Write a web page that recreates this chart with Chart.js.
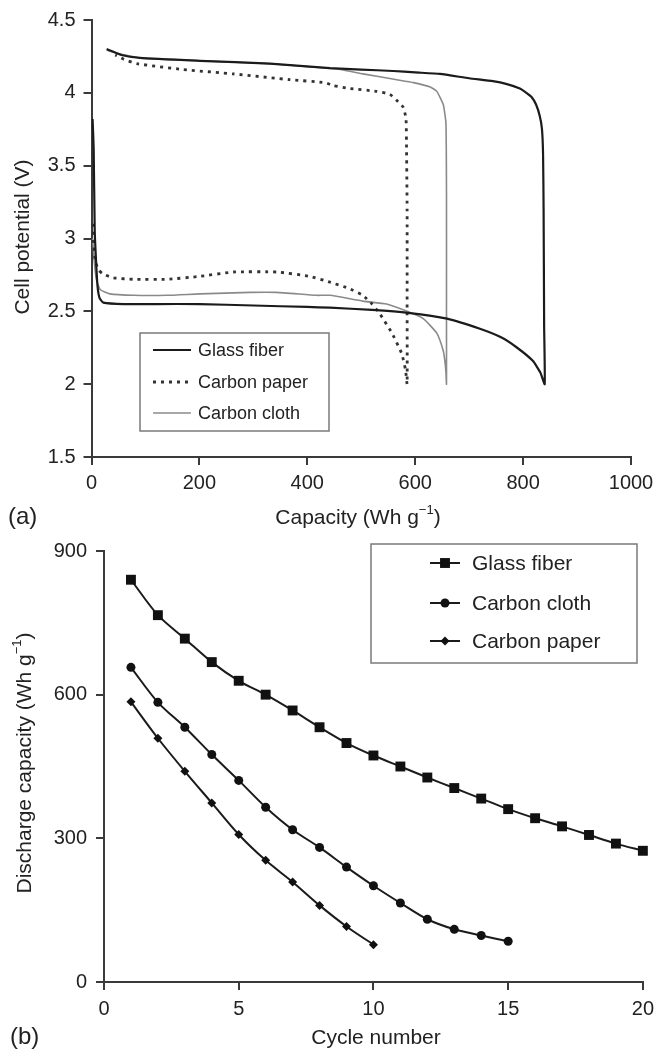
<!DOCTYPE html>
<html><head><meta charset="utf-8">
<script src="https://cdn.jsdelivr.net/npm/chart.js@4/dist/chart.umd.min.js"></script>
<style>
html,body{margin:0;padding:0;background:#fff;}
#wrap{position:relative;width:661px;height:1050px;background:#fff;}
canvas{position:absolute;left:0;}
</style></head><body>
<div id="wrap">
<canvas id="c1" width="661" height="530" style="top:0px"></canvas>
<canvas id="c2" width="661" height="520" style="top:530px"></canvas>
</div>
<script>
// ---------- Panel (a): cell potential vs capacity ----------
const capTicks = [0, 200, 400, 600, 800, 1000];
const capTickLabels = ['0', '200', '400', '600', '800', '1000'];
const potTicks = [1.5, 2, 2.5, 3, 3.5, 4, 4.5];
const potTickLabels = ['1.5', '2', '2.5', '3', '3.5', '4', '4.5'];

const glassCap = [2,4,6,8,11,15,22,60,120,200,300,400,442,520,587,659,720,760,789,818,832,840,
  839,838,837,835,831,824,816,806,794,770,744,700,646,600,559,500,442,331,201,90,55,28];
const glassV = [3.82,3.62,3.05,2.88,2.68,2.59,2.56,2.55,2.55,2.55,2.54,2.53,2.525,2.51,2.49,2.45,2.38,2.32,2.25,2.16,2.08,2.0,
  2.4,3.2,3.58,3.75,3.84,3.92,3.97,4.0,4.03,4.06,4.08,4.1,4.13,4.14,4.15,4.16,4.17,4.2,4.22,4.24,4.26,4.3];

const paperCap = [2,4,7,12,20,40,78,140,201,263,343,405,442,475,503,520,535,557,575,582,585,
  585,585,584,583,578,568,553,529,479,448,433,368,263,170,84,60,44];
const paperV = [3.1,2.95,2.85,2.79,2.76,2.73,2.72,2.72,2.74,2.77,2.77,2.74,2.70,2.66,2.61,2.55,2.48,2.35,2.21,2.1,2.0,
  2.5,3.2,3.6,3.82,3.9,3.94,3.99,4.01,4.03,4.05,4.07,4.09,4.13,4.16,4.2,4.23,4.26];

const clothCap = [2,5,9,16,34,78,140,201,294,343,417,442,503,547,585,615,640,652,655,657,658,
  658,658,657,652,640,628,597,566,503,461,400,331,201,90,50,30];
const clothV = [3.0,2.85,2.72,2.65,2.62,2.61,2.61,2.62,2.63,2.63,2.61,2.61,2.57,2.55,2.5,2.45,2.35,2.23,2.16,2.08,2.0,
  2.5,3.3,3.79,3.92,4.01,4.04,4.07,4.09,4.13,4.16,4.18,4.2,4.22,4.24,4.27,4.29];

// ---------- Panel (b): discharge capacity vs cycle ----------
const cycleTicks = [0, 5, 10, 15, 20];
const cycleTickLabels = ['0', '5', '10', '15', '20'];
const dcTicks = [0, 300, 600, 900];
const dcTickLabels = ['0', '300', '600', '900'];
const glassCycles = [1,2,3,4,5,6,7,8,9,10,11,12,13,14,15,16,17,18,19,20];
const glassDC = [840,766,717,668,629,600,567,532,499,473,450,427,405,383,361,342,325,307,289,274];
const clothCycles = [1,2,3,4,5,6,7,8,9,10,11,12,13,14,15];
const clothDC = [657,584,532,475,421,365,318,281,240,201,165,131,110,97,85];
const paperCycles = [1,2,3,4,5,6,7,8,9,10];
const paperDC = [585,509,440,374,308,254,209,160,116,78];

const FONT = '"Liberation Sans", Arial, Helvetica, sans-serif';
const AX = '#3a3a3a';
const TX = '#222';

function pts(xs, ys) { return xs.map((x, i) => ({x: x, y: ys[i]})); }

function drawRich(ctx, parts, cx, cy, size, rotate) {
  ctx.save();
  ctx.translate(cx, cy);
  if (rotate) ctx.rotate(-Math.PI / 2);
  ctx.fillStyle = TX;
  ctx.textBaseline = 'middle';
  ctx.textAlign = 'left';
  let total = 0;
  parts.forEach(p => {
    ctx.font = (p.sup ? Math.round(size * 0.62) : size) + 'px ' + FONT;
    p.w = ctx.measureText(p.t).width;
    total += p.w;
  });
  let x = -total / 2;
  parts.forEach(p => {
    ctx.font = (p.sup ? Math.round(size * 0.62) : size) + 'px ' + FONT;
    ctx.fillText(p.t, x, p.sup ? -size * 0.38 : 0);
    x += p.w;
  });
  ctx.restore();
}

function drawMarker(ctx, style, r, x, y) {
  ctx.beginPath();
  if (style === 'rect') {
    const s = Math.SQRT1_2 * r;
    ctx.rect(x - s, y - s, 2 * s, 2 * s);
  } else if (style === 'rectRot') {
    ctx.moveTo(x, y - r); ctx.lineTo(x + r, y); ctx.lineTo(x, y + r); ctx.lineTo(x - r, y); ctx.closePath();
  } else {
    ctx.arc(x, y, r, 0, Math.PI * 2);
  }
  ctx.fill();
}

function legendPlugin(box, rows, lineX0, lineX1, textX, size, markers) {
  return {
    id: 'customLegend',
    afterDraw(chart) {
      const ctx = chart.ctx;
      ctx.save();
      ctx.strokeStyle = '#7a7a7a';
      ctx.lineWidth = 1.5;
      ctx.strokeRect(box[0], box[1], box[2] - box[0], box[3] - box[1]);
      rows.forEach((r, k) => {
        const ds = chart.data.datasets[r.ds];
        ctx.save();
        ctx.strokeStyle = ds.borderColor;
        ctx.lineWidth = ds.borderWidth;
        ctx.setLineDash(ds.borderDash || []);
        ctx.beginPath();
        ctx.moveTo(lineX0, r.y); ctx.lineTo(lineX1, r.y);
        ctx.stroke();
        ctx.restore();
        if (markers) {
          ctx.fillStyle = ds.pointBackgroundColor;
          drawMarker(ctx, ds.pointStyle, ds.pointRadius, (lineX0 + lineX1) / 2, r.y);
        }
        ctx.fillStyle = TX;
        ctx.font = size + 'px ' + FONT;
        ctx.textBaseline = 'middle';
        ctx.textAlign = 'left';
        ctx.fillText(ds.label, textX, r.y + 1);
      });
      ctx.restore();
    }
  };
}

function axisCfg(min, max, ticks, labels, fitFn, pad) {
  return {
    type: 'linear', min: min, max: max,
    afterBuildTicks: s => { s.ticks = ticks.map(v => ({value: v})); },
    afterFit: fitFn,
    grid: {drawOnChartArea: false, drawTicks: true, tickLength: 8, color: AX, lineWidth: 2},
    border: {display: true, color: AX, width: 2},
    ticks: {
      font: {family: FONT, size: 20}, color: TX, padding: pad, maxRotation: 0, autoSkip: false,
      callback: (v, i) => labels[ticks.indexOf(v)] !== undefined ? labels[ticks.indexOf(v)] : labels[i]
    }
  };
}

// ---------- Chart (a) ----------
new Chart(document.getElementById('c1'), {
  type: 'scatter',
  data: {
    datasets: [
      {label: 'Glass fiber', data: pts(glassCap, glassV), showLine: true, borderColor: '#1b1b1b', borderWidth: 2.2, pointRadius: 0, tension: 0.15, fill: false},
      {label: 'Carbon paper', data: pts(paperCap, paperV), showLine: true, borderColor: '#333333', borderWidth: 2.8, borderDash: [3, 5], pointRadius: 0, tension: 0.15, fill: false},
      {label: 'Carbon cloth', data: pts(clothCap, clothV), showLine: true, borderColor: '#8a8a8a', borderWidth: 1.6, pointRadius: 0, tension: 0.15, fill: false}
    ]
  },
  options: {
    responsive: false, animation: false, devicePixelRatio: 1,
    layout: {padding: {top: 18, right: 30, left: 0, bottom: 0}},
    scales: {
      x: axisCfg(0, 1000, capTicks, capTickLabels, s => { s.height = 73; }, 6),
      y: axisCfg(1.5, 4.5, potTicks, potTickLabels, s => { s.width = 91.5; }, 8)
    },
    plugins: {legend: {display: false}, tooltip: {enabled: false}}
  },
  plugins: [
    legendPlugin([140, 333, 329, 431], [{ds: 0, y: 350}, {ds: 1, y: 382}, {ds: 2, y: 413}], 153, 191, 198, 18, false),
    {id: 'titlesA', afterDraw(chart) {
      const ctx = chart.ctx;
      drawRich(ctx, [{t: 'Capacity (Wh g'}, {t: '\u22121', sup: true}, {t: ')'}], 358, 518, 21, false);
      drawRich(ctx, [{t: 'Cell potential (V)'}], 23, 237, 21, true);
      ctx.save();
      ctx.fillStyle = TX; ctx.font = '24px ' + FONT; ctx.textBaseline = 'middle'; ctx.textAlign = 'left';
      ctx.fillText('(a)', 8, 517);
      ctx.restore();
    }}
  ]
});

// ---------- Chart (b) ----------
new Chart(document.getElementById('c2'), {
  type: 'line',
  data: {
    datasets: [
      {label: 'Glass fiber', data: pts(glassCycles, glassDC), clip: false, borderColor: '#1b1b1b', borderWidth: 2, pointStyle: 'rect', pointRadius: 7, pointBackgroundColor: '#111', pointBorderWidth: 0, tension: 0.3, fill: false},
      {label: 'Carbon cloth', data: pts(clothCycles, clothDC), clip: false, borderColor: '#1b1b1b', borderWidth: 2, pointStyle: 'circle', pointRadius: 4.5, pointBackgroundColor: '#111', pointBorderWidth: 0, tension: 0.3, fill: false},
      {label: 'Carbon paper', data: pts(paperCycles, paperDC), clip: false, borderColor: '#1b1b1b', borderWidth: 2, pointStyle: 'rectRot', pointRadius: 4.5, pointBackgroundColor: '#111', pointBorderWidth: 0, tension: 0.3, fill: false}
    ]
  },
  options: {
    responsive: false, animation: false, devicePixelRatio: 1,
    layout: {padding: {top: 14, right: 12, left: 0, bottom: 0}},
    scales: {
      x: axisCfg(0, 20, cycleTicks, cycleTickLabels, s => { s.height = 68; }, 7),
      y: axisCfg(0, 900, dcTicks, dcTickLabels, s => { s.width = 104; }, 9)
    },
    plugins: {legend: {display: false}, tooltip: {enabled: false}}
  },
  plugins: [
    legendPlugin([371, 14, 637, 133], [{ds: 0, y: 33}, {ds: 1, y: 73}, {ds: 2, y: 111}], 430, 460, 472, 21, true),
    {id: 'titlesB', afterDraw(chart) {
      const ctx = chart.ctx;
      drawRich(ctx, [{t: 'Cycle number'}], 376, 508, 21, false);
      drawRich(ctx, [{t: 'Discharge capacity (Wh g'}, {t: '\u22121', sup: true}, {t: ')'}], 25, 233, 21, true);
      ctx.save();
      ctx.fillStyle = TX; ctx.font = '24px ' + FONT; ctx.textBaseline = 'middle'; ctx.textAlign = 'left';
      ctx.fillText('(b)', 10, 507);
      ctx.restore();
    }}
  ]
});
</script>
</body></html>
